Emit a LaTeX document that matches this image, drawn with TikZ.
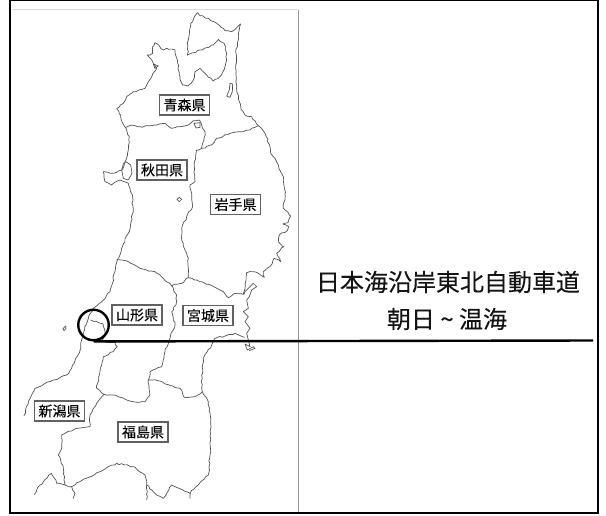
\documentclass[tikz,border=0pt]{standalone}
\usepackage{fontspec}
\usetikzlibrary{decorations.pathmorphing}
\newfontfamily\cjk[FakeBold=0.2]{Noto Sans CJK JP}
\newfontfamily\cjkbig[FakeBold=0.12]{Noto Sans CJK JP}
\pgfmathsetseed{4711}
\tikzset{
  lake/.style={draw=black!68,line width=0.7pt,line join=round,line cap=round},
  mapline/.style={lake,decorate,decoration={random steps,segment length=3pt,amplitude=0.8pt}},
  preflabel/.style={draw=black!62,line width=1.05pt,fill=white,minimum width=50pt,minimum height=20pt,inner sep=0pt},
  bigtext/.style={inner sep=0pt,text=black!92},
  callout/.style={draw=black,line width=2.4pt}
}
\begin{document}
\begin{tikzpicture}[x=1pt,y=-1pt]
\useasboundingbox (0,0) rectangle (606,515);
\fill[white] (0,0) rectangle (606,515);
% map frame
\draw[black!15,line width=0.8pt] (12,9.5) -- (298,9.5);
\draw[black!40,line width=0.8pt] (298,9.5) -- (298,512);
\begin{scope}[x=0.33333pt,y=-0.33333pt]
% north: Aomori + east coast
\draw[mapline] (562,165) -- (565,120) -- (572,70) -- (592,38) -- (600,47) -- (625,55) -- (650,70) -- (675,92) -- (695,95) -- (722,72) -- (715,110) -- (708,160) -- (708,220) -- (712,280) -- (722,320) -- (735,345) -- (755,350) -- (775,377) -- (795,400) -- (810,440) -- (812,460) -- (820,470) -- (835,495) -- (850,530) -- (855,580) -- (855,600) -- (850,625) -- (872,648) -- (864,668) -- (848,672) -- (866,680) -- (862,692) -- (838,705) -- (835,725) -- (852,740) -- (830,760) -- (842,785) -- (822,775) -- (810,800) -- (790,815) -- (793,832) -- (775,820) -- (760,815) -- (740,818);
\draw[mapline] (562,165) -- (600,150) -- (640,135) -- (655,118) -- (672,130) -- (680,160) -- (675,200) -- (660,230) -- (640,243) -- (620,225) -- (600,205) -- (585,215) -- (580,240) -- (565,258) -- (548,255) -- (538,225) -- (532,180) -- (525,150) -- (500,145) -- (490,150) -- (465,128) -- (458,140) -- (458,160) -- (442,165) -- (460,190) -- (470,205) -- (445,245) -- (435,265) -- (400,275) -- (380,290) -- (370,310) -- (350,325) -- (362,345) -- (368,370) -- (378,385) -- (388,410) -- (385,450) -- (375,485) -- (365,510) -- (340,520) -- (310,515) -- (315,545) -- (335,555) -- (360,540) -- (385,550) -- (398,590) -- (398,640) -- (385,700) -- (365,745) -- (352,780) -- (345,815) -- (330,875) -- (310,900) -- (280,925) -- (265,955) -- (250,1000) -- (240,1050) -- (215,1105) -- (200,1125) -- (150,1145) -- (105,1165) -- (85,1205) -- (72,1247);
% Aomori / Akita
\draw[mapline] (378,382) -- (395,375) -- (420,380) -- (470,375) -- (495,370) -- (515,385) -- (540,380) -- (565,375) -- (580,362) -- (598,360) -- (605,375) -- (615,395) -- (612,420) -- (605,445);
% Aomori / Iwate
\draw[mapline] (605,445) -- (635,435) -- (650,415) -- (690,400) -- (720,395) -- (750,390) -- (775,377);
% Akita / Iwate
\draw[mapline] (605,445) -- (590,450) -- (583,490) -- (585,545) -- (570,555) -- (575,590) -- (578,620) -- (560,650) -- (545,685) -- (545,720) -- (555,750) -- (565,775) -- (565,805) -- (565,833);
% Lakes and islets
\draw[lake] (582,370) -- (600,368) -- (600,382) -- (588,384) -- cycle;
\draw[lake] (690,250) -- (698,252) -- (697,275) -- (690,292) -- (680,288) -- (688,270) -- cycle;
\draw[lake] (460,192) -- (475,198) -- (465,205) -- cycle;
\draw[lake] (538,592) -- (545,598) -- (538,605) -- (531,598) -- cycle;
\draw[lake] (378,485) -- (392,495) -- (396,520) -- (385,540) -- (370,535) -- (365,510) -- (370,492) -- cycle;
% Yamagata / Akita
\draw[mapline] (350,780) -- (385,785) -- (420,805) -- (465,815) -- (490,835) -- (515,857);
% Miyagi north border
\draw[mapline] (515,857) -- (545,850) -- (565,833) -- (600,845) -- (645,862) -- (670,875) -- (685,893) -- (705,880) -- (730,883) -- (740,818);
% Yamagata / Miyagi
\draw[mapline] (515,857) -- (530,885) -- (528,915) -- (515,935) -- (525,975) -- (510,1015) -- (495,1055) -- (485,1100) -- (450,1115) -- (445,1140);
% Miyagi / Fukushima
\draw[mapline] (445,1140) -- (480,1143) -- (510,1157) -- (540,1165) -- (555,1193) -- (585,1190) -- (607,1175);
% Yamagata / Fukushima
\draw[mapline] (445,1140) -- (450,1185) -- (435,1205) -- (400,1205) -- (375,1197) -- (340,1185) -- (312,1183);
% Yamagata / Niigata
\draw[mapline] (272,960) -- (310,972) -- (315,1005) -- (305,1020) -- (312,1025) -- (345,1027) -- (352,1040) -- (340,1055) -- (310,1070) -- (300,1115) -- (290,1165) -- (312,1183);
% Miyagi coast
\draw[lake] (732,883) -- (735,875) -- (760,850) -- (770,860) -- (755,870) -- (748,890) -- (740,900) -- (745,925) -- (730,935) -- (745,950) -- (735,965) -- (750,985) -- (740,1000) -- (745,1020) -- (750,1040) -- (735,1032) -- (742,1050) -- (760,1040) -- (765,1045) -- (748,1052);
\draw[mapline] (733,1012) -- (705,1000) -- (675,1008) -- (645,1015) -- (635,1035) -- (610,1075) -- (605,1125) -- (607,1175) -- (625,1205) -- (632,1265) -- (630,1365) -- (625,1425) -- (595,1455) -- (572,1477) -- (570,1495);
% Fukushima south
\draw[mapline] (570,1480) -- (525,1460) -- (515,1455) -- (490,1495) -- (470,1485) -- (440,1455) -- (440,1500);
\draw[mapline] (440,1455) -- (435,1425) -- (400,1400) -- (350,1390) -- (300,1415) -- (240,1445) -- (215,1460) -- (195,1455) -- (170,1450) -- (155,1420) -- (130,1445) -- (120,1455) -- (103,1483);
\draw[mapline] (215,1460) -- (225,1480) -- (220,1495);
% Fukushima / Niigata
\draw[mapline] (312,1183) -- (290,1210) -- (270,1245) -- (270,1280) -- (230,1285) -- (185,1305) -- (185,1345) -- (175,1365) -- (190,1405) -- (195,1455);
% Awashima
\draw[lake] (197,978) -- (198,985) -- (192,992) -- (189,986) -- cycle;
\end{scope}
% labels
\node[preflabel] (aomori) at (184.5,105) {\cjk\fontsize{14}{14}\selectfont 青森県};
\node[preflabel] (akita) at (162,170) {\cjk\fontsize{14}{14}\selectfont 秋田県};
\node[preflabel] (iwate) at (235.5,204.5) {\cjk\fontsize{14}{14}\selectfont 岩手県};
\node[preflabel] (yamagata) at (137,315) {\cjk\fontsize{14}{14}\selectfont 山形県};
\node[preflabel] (miyagi) at (208,315.5) {\cjk\fontsize{14}{14}\selectfont 宮城県};
\node[preflabel] (niigata) at (59.5,411) {\cjk\fontsize{14}{14}\selectfont 新潟県};
\node[preflabel] (fukushima) at (143,432) {\cjk\fontsize{14}{14}\selectfont 福島県};
% callout
\node[circle,draw=black,line width=2.4pt,minimum size=30.5pt,inner sep=0pt] (ring) at (93.5,325) {};
\coordinate (lineend) at (593,340.5);
\draw[callout] (ring.south) -- (lineend);
\node[bigtext] (title1) at (448,282) {\cjkbig\fontsize{24}{24}\selectfont 日本海沿岸東北自動車道};
\node[bigtext] (title2) at (447,319) {\cjkbig\fontsize{24}{24}\selectfont 朝日 \textasciitilde{} 温海};
% outer frame
\draw[black,line width=1.8pt] (10,0.5) rectangle (598,513);
\end{tikzpicture}
\end{document}
